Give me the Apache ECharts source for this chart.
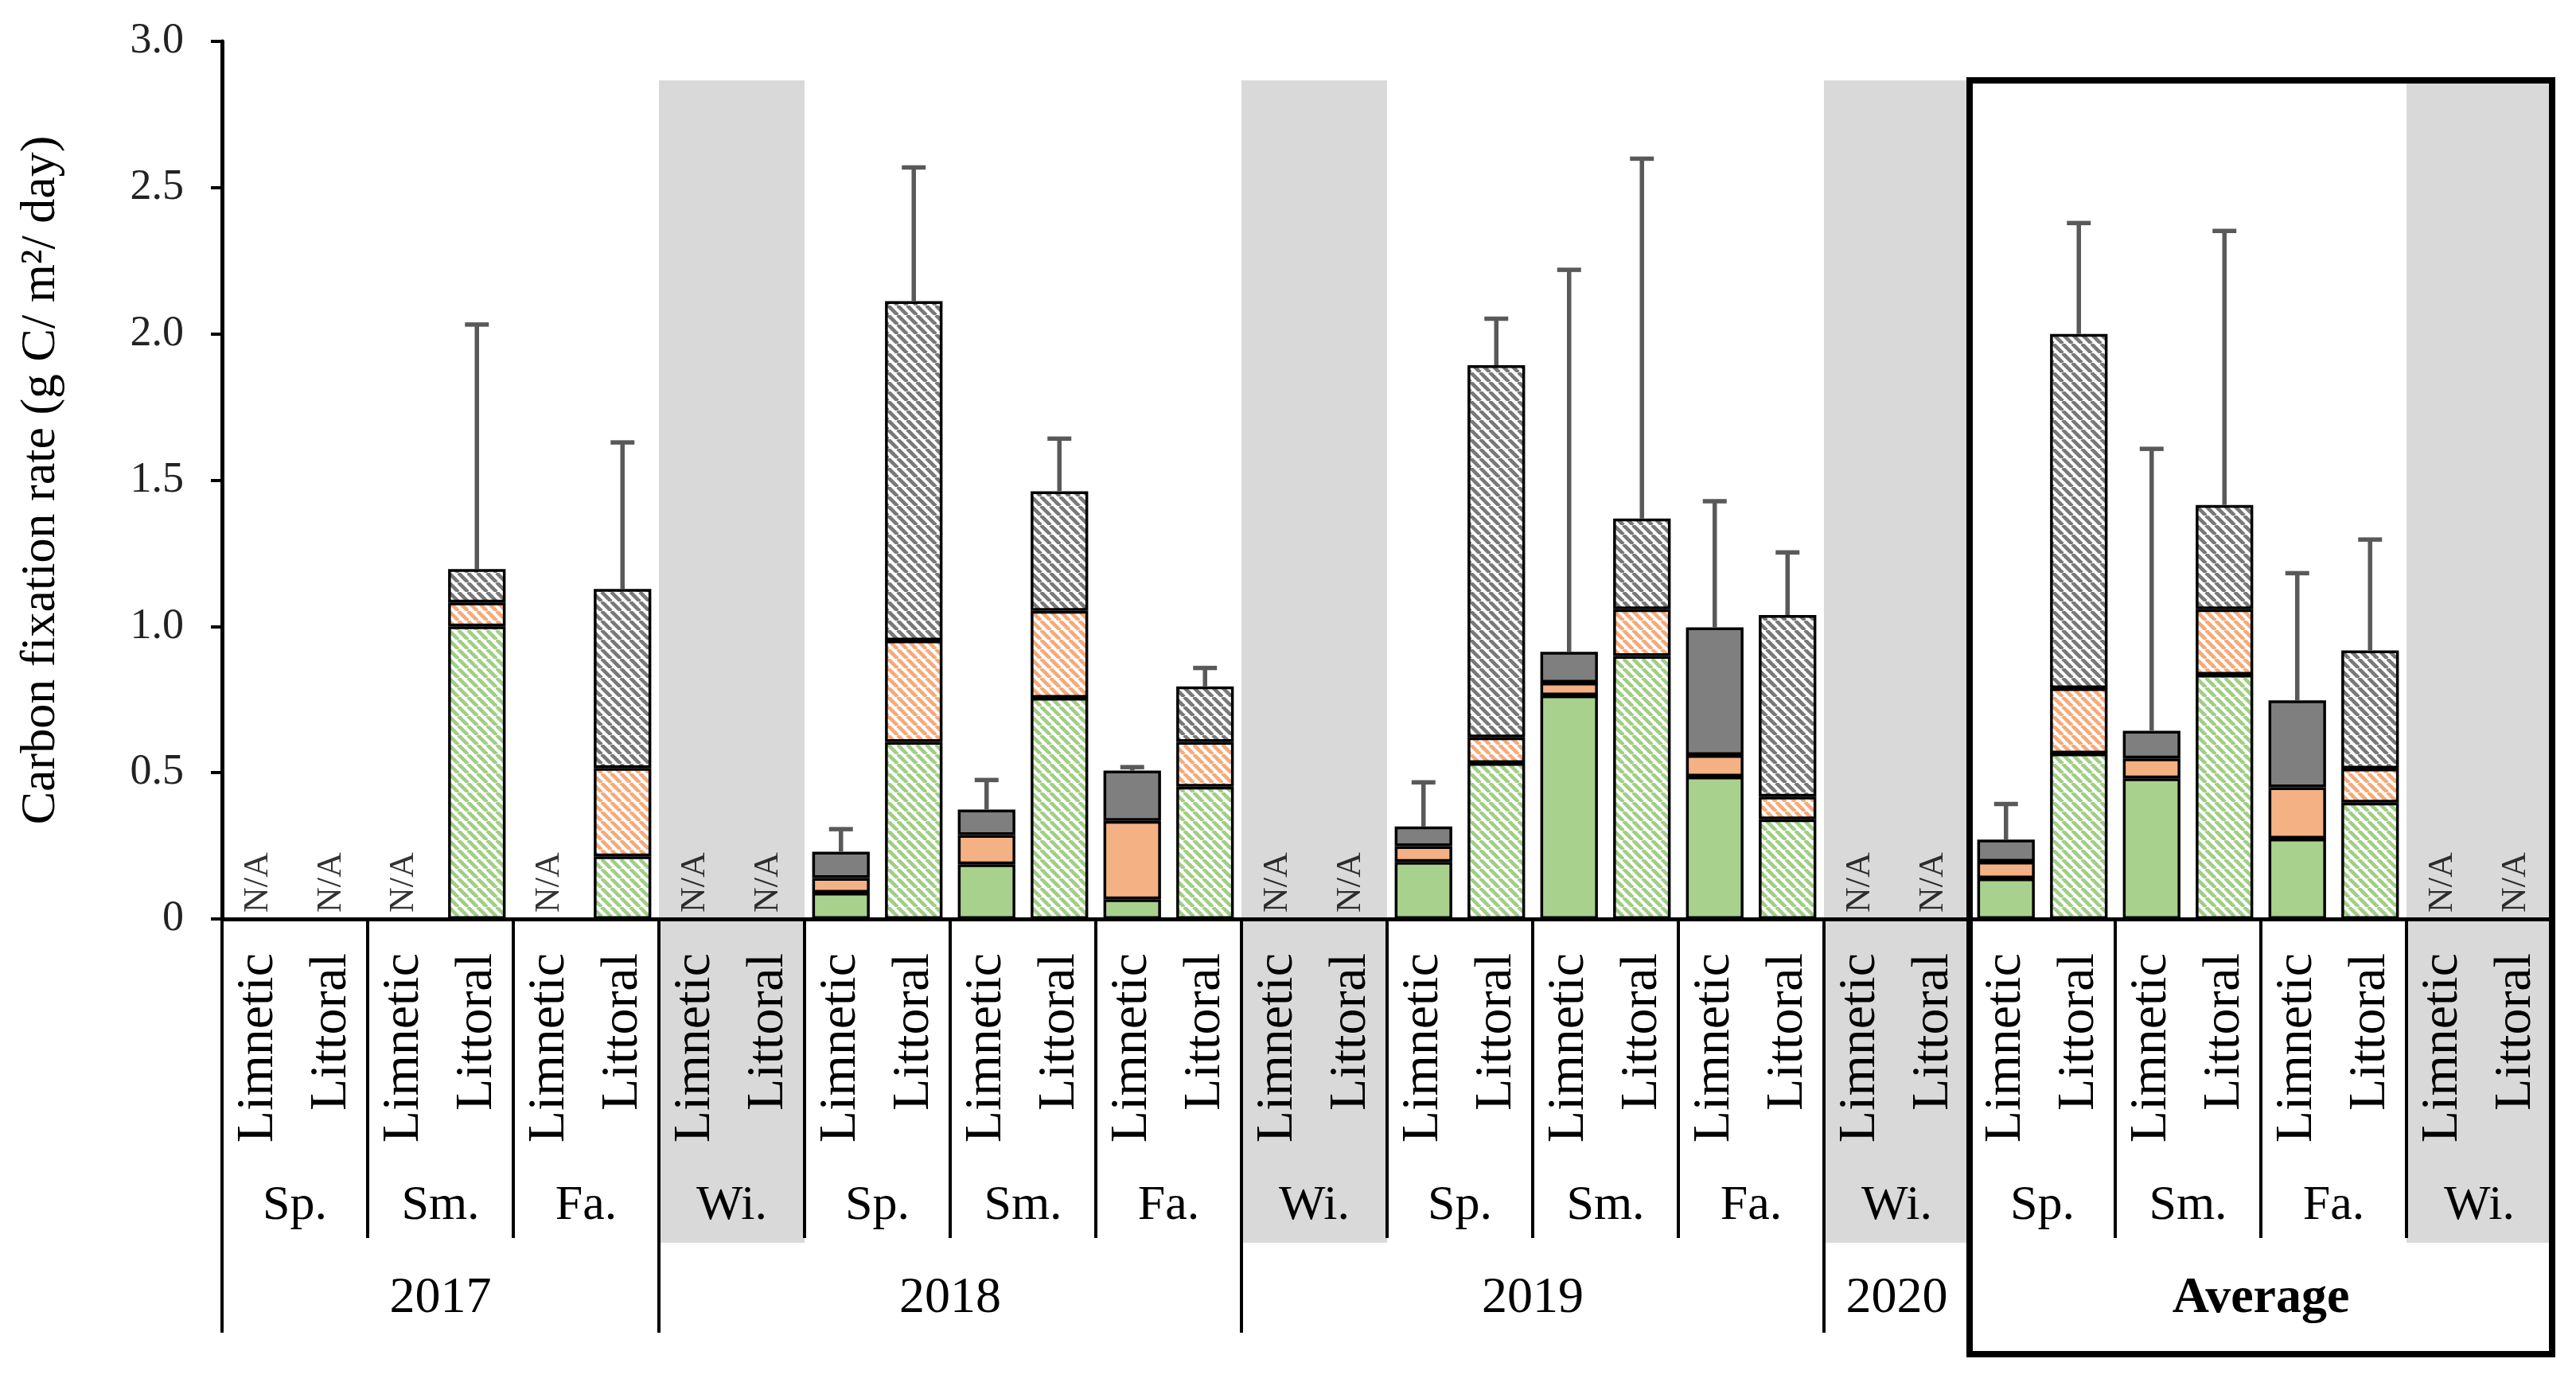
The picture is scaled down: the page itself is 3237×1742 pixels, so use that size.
<!DOCTYPE html>
<html>
<head>
<meta charset="utf-8">
<script src="https://cdn.jsdelivr.net/npm/echarts@6/dist/echarts.min.js"></script>
<style>
  html, body { margin: 0; padding: 0; background: #fff; }
  #chart { width: 3237px; height: 1742px; }
</style>
</head>
<body>
<div id="chart"></div>
<script>
// slots: two per season (Limnetic, Littoral)
var slotLabels = [];
for (var s = 0; s < 16; s++) { slotLabels.push('Limnetic', 'Littoral'); }

var seasons = ['Sp.', 'Sm.', 'Fa.', 'Wi.', 'Sp.', 'Sm.', 'Fa.', 'Wi.',
               'Sp.', 'Sm.', 'Fa.', 'Wi.', 'Sp.', 'Sm.', 'Fa.', 'Wi.'];
var years = ['2017', '2018', '2019', '2020', 'Average'];
var yearGroups = [3, 4, 4, 1, 4];

// stacked parts (null = N/A)
var greenPart = [null, null, null, 1.000, null, 0.214, null, null,
                 0.090, 0.605, 0.187, 0.756, 0.067, 0.452, null, null,
                 0.195, 0.533, 0.764, 0.899, 0.487, 0.341, null, null,
                 0.139, 0.566, 0.481, 0.835, 0.275, 0.398, null, null];
var orangePart = [null, null, null, 0.082, null, 0.302, null, null,
                  0.050, 0.347, 0.100, 0.297, 0.268, 0.153, null, null,
                  0.054, 0.088, 0.044, 0.160, 0.073, 0.077, null, null,
                  0.057, 0.223, 0.068, 0.224, 0.175, 0.116, null, null];
var greyPart = [null, null, null, 0.114, null, 0.612, null, null,
                0.090, 1.160, 0.087, 0.409, 0.172, 0.190, null, null,
                0.067, 1.272, 0.105, 0.310, 0.437, 0.621, null, null,
                0.075, 1.211, 0.094, 0.356, 0.297, 0.404, null, null];
// upper end of error bar
var errTop = [null, null, null, 2.032, null, 1.629, null, null,
              0.307, 2.569, 0.475, 1.642, 0.519, 0.858, null, null,
              0.467, 2.052, 2.219, 2.599, 1.428, 1.253, null, null,
              0.393, 2.379, 1.607, 2.352, 1.182, 1.297, null, null];

var FONT = 'Liberation Serif';

function hatch(color) {
    var s = 12;
    var c = document.createElement('canvas');
    c.width = s; c.height = s;
    var ctx = c.getContext('2d');
    ctx.fillStyle = '#fff';
    ctx.fillRect(0, 0, s, s);
    ctx.strokeStyle = color;
    ctx.lineWidth = 4.6;
    ctx.beginPath();
    for (var k = -1; k <= 1; k++) {
        ctx.moveTo(k * s, 0);
        ctx.lineTo(k * s + s, s);
    }
    ctx.stroke();
    return { image: c, repeat: 'repeat' };
}

var colors = {
    green: ['#A9D18E', hatch('#A0CE84')],
    orange: ['#F4B183', hatch('#F4AA78')],
    grey: ['#7F7F7F', hatch('#787878')]
};

function partData(arr, key) {
    return arr.map(function (v, i) {
        if (v === null) return null;
        return { value: v, itemStyle: { color: colors[key][i % 2] } };
    });
}

function stackSeries(name, arr, key) {
    return {
        name: name,
        type: 'bar',
        stack: 'total',
        barWidth: '79%',
        data: partData(arr, key),
        itemStyle: { borderColor: '#000', borderWidth: 3.5 },
        z: 3
    };
}

var errData = [];
var naData = [];
for (var i = 0; i < slotLabels.length; i++) {
    if (greenPart[i] === null) {
        naData.push([i, 0]);
    } else {
        var total = greenPart[i] + orangePart[i] + greyPart[i];
        errData.push([i, total, errTop[i]]);
    }
}

var chart = echarts.init(document.getElementById('chart'));

var option = {
    backgroundColor: '#fff',
    animation: false,
    grid: { left: 279, right: 30, top: 52, bottom: 587 },
    xAxis: {
        type: 'category',
        data: slotLabels,
        axisLine: { lineStyle: { color: '#000', width: 5 } },
        axisTick: { show: false },
        axisLabel: {
            interval: 0,
            rotate: 90,
            margin: 43,
            color: '#000',
            fontFamily: FONT,
            fontSize: 66
        }
    },
    yAxis: {
        type: 'value',
        min: 0,
        max: 3,
        interval: 0.5,
        name: 'Carbon fixation rate (g C/ m\u00B2/ day)',
        nameLocation: 'middle',
        nameGap: 196,
        nameTextStyle: { color: '#000', fontFamily: FONT, fontSize: 62 },
        axisLine: { show: true, lineStyle: { color: '#000', width: 5 } },
        axisTick: { show: true, length: 14, lineStyle: { color: '#000', width: 4 } },
        splitLine: { show: false },
        axisLabel: {
            margin: 48,
            color: '#222',
            fontFamily: FONT,
            fontSize: 54,
            formatter: function (v) { return v === 0 ? '0' : v.toFixed(1); }
        }
    },
    series: [
        stackSeries('Green', greenPart, 'green'),
        stackSeries('Orange', orangePart, 'orange'),
        stackSeries('Grey', greyPart, 'grey'),
        {
            name: 'Error',
            type: 'custom',
            z: 4,
            data: errData,
            renderItem: function (params, api) {
                var p0 = api.coord([api.value(0), api.value(1)]);
                var p1 = api.coord([api.value(0), api.value(2)]);
                var st = { stroke: '#595959', lineWidth: 5.5 };
                return {
                    type: 'group',
                    children: [
                        { type: 'line', shape: { x1: p0[0], y1: p0[1], x2: p1[0], y2: p1[1] }, style: st },
                        { type: 'line', shape: { x1: p1[0] - 15, y1: p1[1], x2: p1[0] + 15, y2: p1[1] }, style: st }
                    ]
                };
            }
        },
        {
            name: 'NA',
            type: 'scatter',
            symbolSize: 0,
            data: naData,
            z: 4,
            label: {
                show: true,
                formatter: 'N/A',
                position: 'top',
                distance: 8,
                rotate: 90,
                align: 'left',
                verticalAlign: 'middle',
                color: '#000',
                fontFamily: FONT,
                fontSize: 44
            }
        }
    ]
};

chart.setOption(option);

// multi-level axis decorations, placed from the axis scales
var c0 = chart.convertToPixel({ xAxisIndex: 0 }, 0);
var c1 = chart.convertToPixel({ xAxisIndex: 0 }, 1);
var slotW = c1 - c0;
var left = c0 - slotW / 2;
var axisY = chart.convertToPixel({ yAxisIndex: 0 }, 0);
var shadeTop = chart.convertToPixel({ yAxisIndex: 0 }, 2.867);
function edge(g) { return left + g * 2 * slotW; }

var gfx = [];
seasons.forEach(function (name, g) {
    if (name === 'Wi.') {
        gfx.push({
            type: 'rect', z: -1,
            shape: { x: edge(g), y: shadeTop, width: 2 * slotW, height: axisY + 407 - shadeTop },
            style: { fill: '#D9D9D9' }
        });
    }
    gfx.push({
        type: 'text', z: 5,
        style: {
            text: name, x: (edge(g) + edge(g + 1)) / 2, y: axisY + 361,
            textAlign: 'center', textVerticalAlign: 'middle',
            font: '62px "' + FONT + '"', fill: '#000'
        }
    });
});

var yearEdges = [0];
yearGroups.forEach(function (n, k) { yearEdges.push(yearEdges[k] + n); });
var avgStart = yearEdges[yearEdges.length - 2];

for (var b = 0; b <= seasons.length; b++) {
    if (b >= avgStart && (b === avgStart || b === seasons.length)) continue;
    var isYear = yearEdges.indexOf(b) >= 0;
    gfx.push({
        type: 'line', z: 5,
        shape: { x1: edge(b), y1: axisY, x2: edge(b), y2: axisY + (isYear ? 520 : 401) },
        style: { stroke: '#000', lineWidth: 4 }
    });
}

years.forEach(function (name, k) {
    var bold = name === 'Average';
    gfx.push({
        type: 'text', z: 5,
        style: {
            text: name, x: (edge(yearEdges[k]) + edge(yearEdges[k + 1])) / 2, y: axisY + 477,
            textAlign: 'center', textVerticalAlign: 'middle',
            font: (bold ? 'bold ' : '') + '64px "' + FONT + '"', fill: '#000'
        }
    });
});

gfx.push({
    type: 'rect', z: 6,
    shape: { x: edge(avgStart), y: shadeTop, width: edge(seasons.length) - edge(avgStart), height: axisY + 547 - shadeTop },
    style: { fill: 'none', stroke: '#000', lineWidth: 8 }
});

chart.setOption({ graphic: { elements: gfx } });
</script>
</body>
</html>
